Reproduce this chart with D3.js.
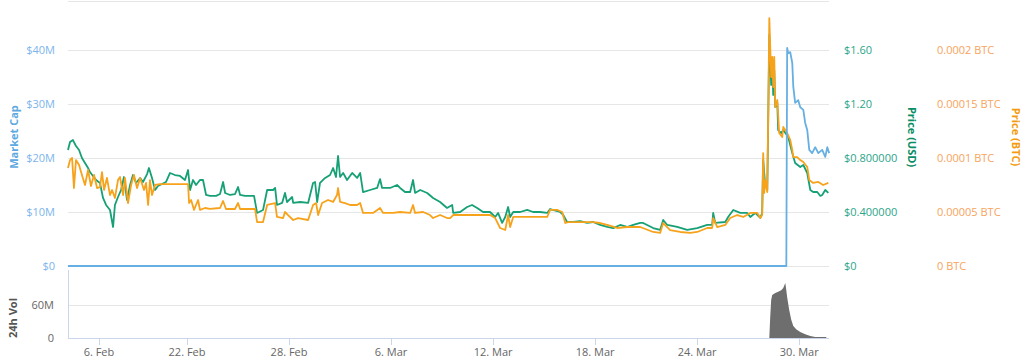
<html>
  <head>
    <title>Market Cap / Price</title>
    <script type="text/javascript" src="https://cdn.jsdelivr.net/npm/d3@7/dist/d3.min.js"></script>
    <style type="text/css">

body {
  margin: 0;
  background: #fff;
  font: 11px "Open Sans", sans-serif;
}

.grid line {
  stroke: #e6e6e6;
  shape-rendering: crispEdges;
}

.axisline {
  stroke: #ccd6eb;
  shape-rendering: crispEdges;
}

.line {
  fill: none;
  stroke-width: 1.8px;
  stroke-linejoin: round;
}

    </style>
  </head>
  <body>
    <script type="text/javascript">

// days since 15 Feb 2018 (UTC), value
var marketCap = [
  [0, 0], [42.24, 0], [42.29, 40.4e6], [42.35, 39.4e6], [42.47, 39.6e6], [42.59, 37.6e6],
  [42.65, 33.2e6], [42.76, 30.2e6], [42.94, 30.7e6], [43.06, 29.4e6], [43.24, 28.9e6],
  [43.35, 26.5e6], [43.47, 25.2e6], [43.59, 21.5e6], [43.76, 20.9e6], [43.94, 22.0e6],
  [44.12, 20.9e6], [44.35, 21.5e6], [44.53, 20.2e6], [44.65, 22.0e6], [44.76, 20.9e6]
];

var priceUsd = [
  [0, 0.859], [0.12, 0.919], [0.29, 0.933], [0.47, 0.889], [0.65, 0.859], [0.82, 0.800],
  [1.00, 0.763], [1.18, 0.726], [1.29, 0.696], [1.47, 0.667], [1.65, 0.637], [1.88, 0.615],
  [2.06, 0.504], [2.24, 0.452], [2.47, 0.415], [2.65, 0.289], [2.76, 0.452], [2.94, 0.511],
  [3.12, 0.563], [3.29, 0.659], [3.47, 0.489], [3.65, 0.600], [3.82, 0.674], [4.00, 0.615],
  [4.24, 0.652], [4.41, 0.622], [4.65, 0.681], [4.76, 0.726], [4.94, 0.652], [5.12, 0.563],
  [5.29, 0.593], [5.53, 0.607], [5.76, 0.622], [6.00, 0.689], [6.29, 0.674], [6.59, 0.667],
  [6.88, 0.637], [7.06, 0.711], [7.18, 0.563], [7.35, 0.637], [7.53, 0.600], [7.76, 0.637],
  [7.94, 0.637], [8.12, 0.526], [8.35, 0.519], [8.71, 0.519], [8.94, 0.533], [9.12, 0.622],
  [9.24, 0.541], [9.53, 0.526], [9.82, 0.533], [10.00, 0.585], [10.12, 0.526], [10.41, 0.519],
  [10.94, 0.519], [11.12, 0.393], [11.47, 0.415], [11.71, 0.563], [12.06, 0.563], [12.18, 0.578],
  [12.29, 0.452], [12.59, 0.467], [12.76, 0.541], [12.88, 0.474], [13.18, 0.511], [13.24, 0.467],
  [13.65, 0.474], [14.12, 0.467], [14.41, 0.615], [14.53, 0.622], [14.65, 0.474], [14.82, 0.615],
  [15.12, 0.652], [15.41, 0.674], [15.59, 0.726], [15.76, 0.659], [15.88, 0.815], [16.00, 0.659],
  [16.18, 0.689], [16.41, 0.637], [16.71, 0.689], [17.00, 0.652], [17.18, 0.689], [17.35, 0.548],
  [17.76, 0.563], [18.18, 0.578], [18.35, 0.644], [18.47, 0.578], [18.94, 0.578], [19.35, 0.600],
  [19.53, 0.578], [19.82, 0.548], [20.12, 0.548], [20.29, 0.637], [20.41, 0.541], [20.71, 0.563],
  [21.12, 0.541], [21.47, 0.504], [21.88, 0.474], [22.29, 0.430], [22.59, 0.452], [22.65, 0.393],
  [23.06, 0.400], [23.47, 0.437], [23.76, 0.452], [24.06, 0.430], [24.41, 0.400], [24.82, 0.400],
  [25.12, 0.363], [25.29, 0.393], [25.53, 0.319], [25.71, 0.363], [25.88, 0.437], [26.00, 0.363],
  [26.18, 0.400], [26.59, 0.400], [27.00, 0.415], [27.35, 0.400], [27.76, 0.400], [28.18, 0.393],
  [28.35, 0.422], [28.94, 0.400], [29.12, 0.378], [29.35, 0.326], [29.71, 0.326], [30.12, 0.333],
  [30.53, 0.319], [30.88, 0.326], [31.29, 0.304], [31.71, 0.289], [32.06, 0.281], [32.47, 0.304],
  [32.88, 0.289], [33.24, 0.304], [33.65, 0.319], [33.82, 0.319], [34.41, 0.281], [34.82, 0.267],
  [35.00, 0.341], [35.24, 0.304], [35.82, 0.289], [36.41, 0.267], [37.00, 0.281], [37.59, 0.304],
  [37.88, 0.304], [37.94, 0.393], [38.06, 0.319], [38.65, 0.326], [38.82, 0.363], [39.12, 0.415],
  [39.53, 0.393], [39.94, 0.393], [40.12, 0.363], [40.41, 0.393], [40.71, 0.356], [40.82, 0.393],
  [40.88, 0.785], [41.00, 0.600], [41.12, 0.563], [41.18, 1.119], [41.24, 1.711], [41.35, 1.341],
  [41.41, 1.489], [41.47, 1.267], [41.53, 1.452], [41.59, 1.178], [41.71, 1.207], [41.76, 1.007],
  [41.94, 0.985], [42.06, 1.007], [42.35, 0.956], [42.59, 0.837], [42.76, 0.763], [43.06, 0.733],
  [43.24, 0.748], [43.47, 0.689], [43.65, 0.563], [43.82, 0.548], [44.06, 0.548], [44.24, 0.519],
  [44.35, 0.526], [44.53, 0.563], [44.71, 0.541]
];

var priceBtc = [
  [0, 0.0000907], [0.12, 0.0000981], [0.24, 0.0001000], [0.35, 0.0000722], [0.47, 0.0000981],
  [0.65, 0.0000935], [0.82, 0.0000843], [1.00, 0.0000750], [1.18, 0.0000889], [1.35, 0.0000741],
  [1.53, 0.0000843], [1.71, 0.0000722], [1.88, 0.0000731], [2.00, 0.0000870], [2.12, 0.0000704],
  [2.29, 0.0000815], [2.47, 0.0000657], [2.59, 0.0000704], [2.76, 0.0000630], [2.94, 0.0000796],
  [3.06, 0.0000824], [3.24, 0.0000657], [3.35, 0.0000815], [3.53, 0.0000583], [3.71, 0.0000750],
  [3.88, 0.0000843], [4.06, 0.0000722], [4.24, 0.0000815], [4.47, 0.0000704], [4.59, 0.0000769],
  [4.71, 0.0000565], [4.82, 0.0000796], [4.94, 0.0000657], [5.12, 0.0000750], [5.41, 0.0000759],
  [6.00, 0.0000759], [6.59, 0.0000759], [7.06, 0.0000759], [7.12, 0.0000583], [7.24, 0.0000611],
  [7.41, 0.0000519], [7.65, 0.0000611], [7.76, 0.0000519], [8.06, 0.0000537], [8.35, 0.0000528],
  [8.94, 0.0000537], [9.12, 0.0000602], [9.29, 0.0000528], [9.82, 0.0000528], [10.00, 0.0000583],
  [10.12, 0.0000528], [11.00, 0.0000528], [11.12, 0.0000407], [11.47, 0.0000407], [11.71, 0.0000565],
  [12.18, 0.0000583], [12.29, 0.0000454], [12.65, 0.0000444], [12.76, 0.0000500], [12.94, 0.0000472],
  [13.24, 0.0000426], [13.53, 0.0000444], [14.12, 0.0000426], [14.41, 0.0000565], [14.59, 0.0000583],
  [14.71, 0.0000472], [14.94, 0.0000583], [15.29, 0.0000611], [15.59, 0.0000593], [15.82, 0.0000657],
  [15.88, 0.0000722], [16.00, 0.0000593], [16.29, 0.0000583], [16.59, 0.0000565], [17.00, 0.0000565],
  [17.18, 0.0000583], [17.35, 0.0000491], [17.94, 0.0000491], [18.35, 0.0000537], [18.53, 0.0000491],
  [19.12, 0.0000491], [19.53, 0.0000500], [20.12, 0.0000491], [20.29, 0.0000565], [20.41, 0.0000491],
  [20.88, 0.0000500], [21.29, 0.0000472], [21.47, 0.0000444], [21.88, 0.0000472], [22.29, 0.0000444],
  [22.47, 0.0000444], [22.65, 0.0000472], [23.47, 0.0000472], [24.24, 0.0000472], [24.82, 0.0000472],
  [25.12, 0.0000444], [25.41, 0.0000352], [25.71, 0.0000333], [25.88, 0.0000472], [26.00, 0.0000361],
  [26.18, 0.0000454], [26.76, 0.0000454], [27.76, 0.0000454], [28.18, 0.0000454], [28.35, 0.0000519],
  [28.76, 0.0000519], [29.06, 0.0000500], [29.24, 0.0000398], [29.41, 0.0000407], [30.12, 0.0000407],
  [30.88, 0.0000407], [31.29, 0.0000398], [31.71, 0.0000380], [32.29, 0.0000352], [32.88, 0.0000361],
  [33.65, 0.0000361], [34.41, 0.0000315], [34.82, 0.0000306], [35.00, 0.0000398], [35.41, 0.0000333],
  [36.00, 0.0000315], [36.59, 0.0000306], [37.00, 0.0000315], [37.59, 0.0000352], [37.88, 0.0000352],
  [37.94, 0.0000444], [38.18, 0.0000361], [38.65, 0.0000380], [38.94, 0.0000444], [39.35, 0.0000472],
  [39.71, 0.0000454], [40.12, 0.0000491], [40.53, 0.0000491], [40.71, 0.0000444], [40.82, 0.0000472],
  [40.88, 0.0001046], [40.94, 0.0000676], [41.00, 0.0000796], [41.12, 0.0000685], [41.18, 0.0001444],
  [41.24, 0.0002296], [41.35, 0.0001750], [41.41, 0.0001935], [41.47, 0.0001657], [41.53, 0.0001935],
  [41.59, 0.0001472], [41.71, 0.0001537], [41.82, 0.0001231], [42.00, 0.0001194], [42.06, 0.0001287],
  [42.29, 0.0001231], [42.47, 0.0001167], [42.59, 0.0001074], [42.65, 0.0001009], [42.88, 0.0001009],
  [43.06, 0.0000981], [43.24, 0.0000963], [43.47, 0.0000917], [43.59, 0.0000796], [43.82, 0.0000769],
  [44.12, 0.0000778], [44.41, 0.0000750], [44.71, 0.0000769]
];

var volume = [
  [0, 0], [41.24, 0], [41.29, 36e6], [41.35, 69e6], [41.41, 78e6], [41.59, 82e6], [41.76, 84e6],
  [41.94, 87e6], [42.06, 91e6], [42.18, 100e6], [42.24, 87e6], [42.29, 74e6], [42.41, 51e6],
  [42.53, 33e6], [42.65, 22e6], [42.82, 16e6], [43.06, 11e6], [43.35, 7e6], [43.65, 3.6e6],
  [43.94, 1.8e6], [44.59, 1.8e6]
];

var capTicks = [0, 10e6, 20e6, 30e6, 40e6],
    capLabels = ["$0", "$10M", "$20M", "$30M", "$40M"],
    usdTicks = [0, 0.4, 0.8, 1.2, 1.6],
    usdLabels = ["$0", "$0.400000", "$0.800000", "$1.20", "$1.60"],
    btcTicks = [0, 0.00005, 0.0001, 0.00015, 0.0002],
    btcLabels = ["0 BTC", "0.00005 BTC", "0.0001 BTC", "0.00015 BTC", "0.0002 BTC"],
    volTicks = [0, 60e6],
    volLabels = ["0", "60M"],
    dateTicks = ["2018-02-16T19:40Z", "2018-02-22T00:00Z", "2018-02-28T00:00Z", "2018-03-06T00:00Z",
                 "2018-03-12T00:00Z", "2018-03-18T00:00Z", "2018-03-24T00:00Z", "2018-03-30T00:00Z"],
    dateLabels = ["6. Feb", "22. Feb", "28. Feb", "6. Mar", "12. Mar", "18. Mar", "24. Mar", "30. Mar"];

var start = Date.UTC(2018, 1, 15);
function day(d) { return new Date(start + d * 864e5); }

var w = 1024,
    h = 363,
    left = 68,
    right = 829;

var x = d3.scaleUtc()
    .domain([day(0), day(44.75)])
    .range([left, right]);

var yCap = d3.scaleLinear().domain([0, 40e6]).range([266, 50]),
    yUsd = d3.scaleLinear().domain([0, 1.6]).range([266, 50]),
    yBtc = d3.scaleLinear().domain([0, 0.0002]).range([266, 50]),
    yVol = d3.scaleLinear().domain([0, 120e6]).range([338, 272]);

var svg = d3.select("body")
  .append("svg")
    .attr("width", w)
    .attr("height", h);

// grid
var grid = svg.append("g").attr("class", "grid");

grid.selectAll("line.main")
    .data(capTicks.concat([50e6]))
  .enter().append("line")
    .attr("class", "main")
    .attr("x1", left)
    .attr("x2", right)
    .attr("y1", function(d) { return d === 50e6 ? 1.5 : yCap(d); })
    .attr("y2", function(d) { return d === 50e6 ? 1.5 : yCap(d); });

grid.selectAll("line.vol")
    .data(volTicks.slice(1))
  .enter().append("line")
    .attr("class", "vol")
    .attr("x1", left)
    .attr("x2", right)
    .attr("y1", function(d) { return yVol(d); })
    .attr("y2", function(d) { return yVol(d); });

// left axis labels
svg.selectAll("text.cap")
    .data(capTicks)
  .enter().append("text")
    .attr("class", "cap")
    .attr("x", 55)
    .attr("y", function(d) { return yCap(d); })
    .attr("dy", ".35em")
    .attr("text-anchor", "end")
    .attr("fill", "#7cb5ec")
    .text(function(d, i) { return capLabels[i]; });

svg.selectAll("text.usd")
    .data(usdTicks)
  .enter().append("text")
    .attr("class", "usd")
    .attr("x", 844)
    .attr("y", function(d) { return yUsd(d); })
    .attr("dy", ".35em")
    .attr("fill", "#2ca58a")
    .text(function(d, i) { return usdLabels[i]; });

svg.selectAll("text.btc")
    .data(btcTicks)
  .enter().append("text")
    .attr("class", "btc")
    .attr("x", 937)
    .attr("y", function(d) { return yBtc(d); })
    .attr("dy", ".35em")
    .attr("fill", "#f7a35c")
    .text(function(d, i) { return btcLabels[i]; });

svg.selectAll("text.vol")
    .data(volTicks)
  .enter().append("text")
    .attr("class", "vol")
    .attr("x", 54)
    .attr("y", function(d) { return yVol(d); })
    .attr("dy", ".35em")
    .attr("text-anchor", "end")
    .attr("fill", "#666")
    .text(function(d, i) { return volLabels[i]; });

// axis titles
function title(tx, ty, rot, color, txt) {
  svg.append("text")
      .attr("transform", "translate(" + tx + "," + ty + ") rotate(" + rot + ")")
      .attr("text-anchor", "middle")
      .attr("dy", ".35em")
      .attr("fill", color)
      .style("font-weight", "bold")
      .style("font-size", "11px")
      .text(txt);
}
title(14, 137, -90, "#5da9e0", "Market Cap");
title(13, 318, -90, "#555", "24h Vol");
title(912, 137, 90, "#0b8e66", "Price (USD)");
title(1016, 137, 90, "#f39c12", "Price (BTC)");

// x axis
svg.append("line")
    .attr("class", "axisline")
    .attr("x1", left).attr("x2", right)
    .attr("y1", 338.5).attr("y2", 338.5);

svg.append("line")
    .attr("class", "axisline")
    .attr("x1", left + 0.5).attr("x2", left + 0.5)
    .attr("y1", 270).attr("y2", 338);

var dates = dateTicks.map(function(s) { return new Date(s); });

svg.selectAll("line.tick")
    .data(dates)
  .enter().append("line")
    .attr("class", "axisline")
    .attr("x1", function(d) { return Math.round(x(d)) + 0.5; })
    .attr("x2", function(d) { return Math.round(x(d)) + 0.5; })
    .attr("y1", 338)
    .attr("y2", 345);

svg.selectAll("text.date")
    .data(dates)
  .enter().append("text")
    .attr("class", "date")
    .attr("x", function(d) { return x(d); })
    .attr("y", 356)
    .attr("text-anchor", "middle")
    .attr("fill", "#666")
    .text(function(d, i) { return dateLabels[i]; });

// volume area
svg.append("path")
    .datum(volume)
    .attr("fill", "#6e6e6e")
    .attr("d", d3.area()
        .x(function(d) { return x(day(d[0])); })
        .y0(yVol(0))
        .y1(function(d) { return yVol(d[1]); }));

// lines
function line(data, y, color) {
  svg.append("path")
      .datum(data)
      .attr("class", "line")
      .attr("stroke", color)
      .attr("d", d3.line()
          .x(function(d) { return x(day(d[0])); })
          .y(function(d) { return y(d[1]); }));
}
line(priceUsd, yUsd, "#16a075");
line(priceBtc, yBtc, "#f7a21b");
line(marketCap, yCap, "#66afe3");

    </script>
  </body>
</html>
